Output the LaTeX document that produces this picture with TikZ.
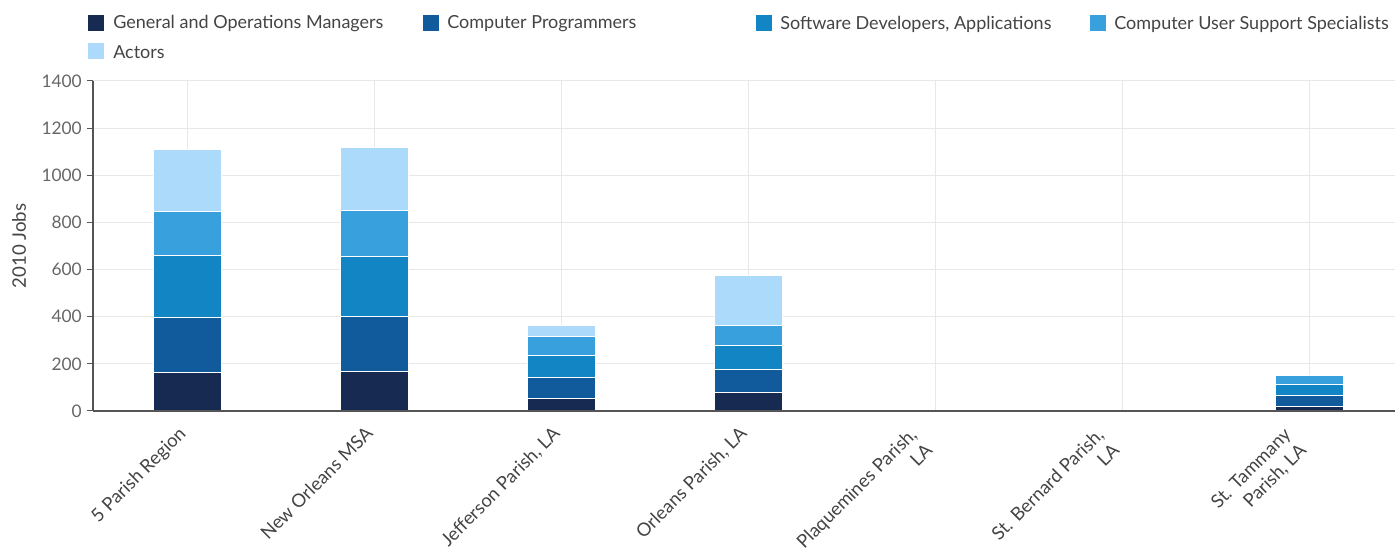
\documentclass[tikz,border=0pt]{standalone}
\usepackage{fontspec}
\setmainfont{Lato}
\definecolor{gom}{HTML}{172A52}
\definecolor{prog}{HTML}{115A9B}
\definecolor{soft}{HTML}{1285C4}
\definecolor{supp}{HTML}{38A0DC}
\definecolor{act}{HTML}{ACDAFB}
\definecolor{gridcol}{HTML}{E8E8E8}
\definecolor{axiscol}{HTML}{555555}
\definecolor{txt}{HTML}{444444}
\definecolor{tickcol}{HTML}{666666}

\begin{document}
\begin{tikzpicture}[x=0.75pt,y=0.75pt,
    lbl/.style={font=\fontsize{13.5}{16}\selectfont, text=txt, inner sep=0pt},
    tick/.style={font=\fontsize{13}{15}\selectfont, text=tickcol, anchor=east, inner sep=0pt},
    cat/.style={font=\fontsize{13.8}{16}\selectfont, text=txt, rotate=45, anchor=base east, inner sep=0pt},
    key/.style={minimum size=12pt, inner sep=0pt, anchor=west},
    seg/.style={draw=white, line width=0.75pt}]
\useasboundingbox (-93,-137) rectangle (1302,411);
\node[key, fill=gom] (key0) at (-5,388){};
\node[lbl, anchor=west] (leg0) at (20,387){General and Operations Managers};
\node[key, fill=prog] (key1) at (330,388){};
\node[lbl, anchor=west] (leg1) at (354,387){Computer Programmers};
\node[key, fill=soft] (key2) at (663,388){};
\node[lbl, anchor=west] (leg2) at (687,387){Software Developers, Applications};
\node[key, fill=supp] (key3) at (997,388){};
\node[lbl, anchor=west] (leg3) at (1021,387){Computer User Support Specialists};
\node[key, fill=act] (key4) at (-5,360){};
\node[lbl, anchor=west] (leg4) at (20,359){Actors};
\begin{scope}[y=0.176786pt]
\draw[gridcol, line width=0.75pt] (0,200) -- (1302,200) (0,400) -- (1302,400)
    (0,600) -- (1302,600) (0,800) -- (1302,800) (0,1000) -- (1302,1000)
    (0,1200) -- (1302,1200) (0,1400) -- (1302,1400);
\draw[gridcol, line width=0.75pt] (94,0) -- (94,1400) (281,0) -- (281,1400)
    (468,0) -- (468,1400) (655,0) -- (655,1400) (842,0) -- (842,1400)
    (1029,0) -- (1029,1400) (1216,0) -- (1216,1400);
\filldraw[seg, fill=gom] (60,0) rectangle (128,163);
\filldraw[seg, fill=prog] (60,163) rectangle (128,395);
\filldraw[seg, fill=soft] (60,395) rectangle (128,658);
\filldraw[seg, fill=supp] (60,658) rectangle (128,846);
\filldraw[seg, fill=act] (60,846) rectangle (128,1110);
\filldraw[seg, fill=gom] (247,0) rectangle (315,167);
\filldraw[seg, fill=prog] (247,167) rectangle (315,400);
\filldraw[seg, fill=soft] (247,400) rectangle (315,655);
\filldraw[seg, fill=supp] (247,655) rectangle (315,852);
\filldraw[seg, fill=act] (247,852) rectangle (315,1116);
\filldraw[seg, fill=gom] (434,0) rectangle (502,54);
\filldraw[seg, fill=prog] (434,54) rectangle (502,143);
\filldraw[seg, fill=soft] (434,143) rectangle (502,236);
\filldraw[seg, fill=supp] (434,236) rectangle (502,315);
\filldraw[seg, fill=act] (434,315) rectangle (502,361);
\filldraw[seg, fill=gom] (621,0) rectangle (689,78);
\filldraw[seg, fill=prog] (621,78) rectangle (689,174);
\filldraw[seg, fill=soft] (621,174) rectangle (689,279);
\filldraw[seg, fill=supp] (621,279) rectangle (689,364);
\filldraw[seg, fill=act] (621,364) rectangle (689,576);
\filldraw[seg, fill=gom] (1182,0) rectangle (1250,18);
\filldraw[seg, fill=prog] (1182,18) rectangle (1250,67);
\filldraw[seg, fill=soft] (1182,67) rectangle (1250,112);
\filldraw[seg, fill=supp] (1182,112) rectangle (1250,149);
\draw[axiscol, line width=0.9pt] (0,0) -- (1302,0);
\draw[axiscol, line width=0.9pt] (0,0) -- (0,1400);
\draw[axiscol, line width=0.75pt] (-6,0) -- (0,0) (-6,200) -- (0,200) (-6,400) -- (0,400)
    (-6,600) -- (0,600) (-6,800) -- (0,800) (-6,1000) -- (0,1000)
    (-6,1200) -- (0,1200) (-6,1400) -- (0,1400);
\node[tick] (tick0) at (-11,0){0};
\node[tick] (tick1) at (-11,200){200};
\node[tick] (tick2) at (-11,400){400};
\node[tick] (tick3) at (-11,600){600};
\node[tick] (tick4) at (-11,800){800};
\node[tick] (tick5) at (-11,1000){1000};
\node[tick] (tick6) at (-11,1200){1200};
\node[tick] (tick7) at (-11,1400){1400};
\node[lbl, rotate=90, font=\fontsize{14}{16}\selectfont] (ytitle) at (-74,700){2010 Jobs};
\end{scope}
\node[cat] (cat0) at (94,-24){5 Parish Region};
\node[cat] (cat1) at (281,-24){New Orleans MSA};
\node[cat] (cat2) at (468,-24){Jefferson Parish, LA};
\node[cat] (cat3) at (655,-24){Orleans Parish, LA};
\node[cat] (cat4) at (825,-25){Plaquemines Parish,};
\node[cat] (cat40) at ([shift={(-45:22)}]cat4.base east){LA};
\node[cat] (cat5) at (1012,-25){St. Bernard Parish,};
\node[cat] (cat50) at ([shift={(-45:22)}]cat5.base east){LA};
\node[cat] (cat6) at (1199,-25){St. Tammany};
\node[cat] (cat60) at ([shift={(-45:22)}]cat6.base east){Parish, LA};
\end{tikzpicture}
\end{document}
